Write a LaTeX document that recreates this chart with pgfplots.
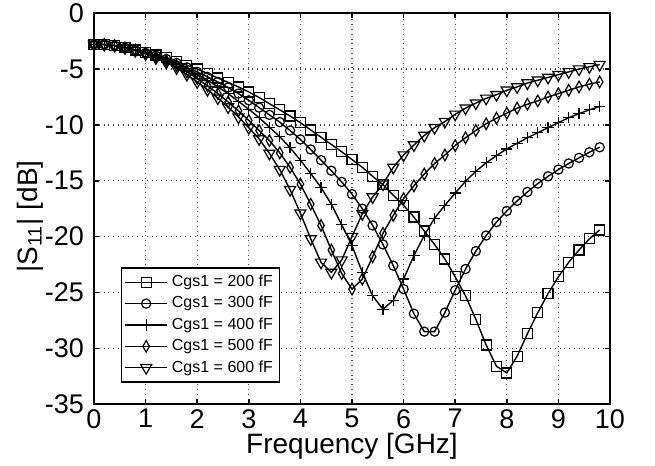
\documentclass[border=0pt]{standalone}
\usepackage{fontspec}
\setmainfont{Liberation Sans}
\usepackage{pgfplots}
\usepackage{pgfplotstable}
\pgfplotsset{compat=1.18}

\pgfplotstableread{
f    a      b      c      d      e
0.0  -2.80  -2.80  -2.80  -2.80  -2.80
0.2  -2.80  -2.80  -2.80  -2.80  -2.80
0.4  -2.90  -2.90  -2.90  -2.90  -2.90
0.6  -3.10  -3.10  -3.10  -3.10  -3.10
0.8  -3.30  -3.30  -3.30  -3.30  -3.35
1.0  -3.50  -3.55  -3.55  -3.60  -3.65
1.2  -3.75  -3.80  -3.85  -3.90  -4.00
1.4  -4.00  -4.10  -4.15  -4.25  -4.40
1.6  -4.30  -4.45  -4.50  -4.70  -4.90
1.8  -4.65  -4.85  -4.95  -5.25  -5.50
2.0  -5.00  -5.25  -5.45  -5.85  -6.15
2.2  -5.40  -5.70  -6.00  -6.50  -6.85
2.4  -5.80  -6.15  -6.60  -7.20  -7.60
2.6  -6.20  -6.65  -7.20  -7.95  -8.40
2.8  -6.60  -7.20  -7.90  -8.75  -9.30
3.0  -7.05  -7.80  -8.60  -9.60  -10.25
3.2  -7.55  -8.45  -9.35  -10.50 -11.25
3.4  -8.10  -9.10  -10.20 -11.40 -12.55
3.6  -8.65  -9.75  -11.05 -12.50 -14.00
3.8  -9.20  -10.50 -12.05 -13.80 -15.80
4.0  -9.80  -11.30 -13.15 -15.30 -17.90
4.2  -10.45 -12.20 -14.35 -17.10 -20.20
4.4  -11.10 -13.15 -15.60 -19.00 -22.30
4.6  -11.75 -14.10 -17.10 -21.20 -23.20
4.8  -12.40 -15.10 -18.95 -23.30 -22.10
5.0  -13.10 -16.20 -20.80 -24.70 -20.00
5.2  -13.80 -17.50 -23.20 -23.80 -17.95
5.4  -14.60 -19.00 -25.30 -21.80 -16.45
5.6  -15.35 -20.70 -26.50 -19.70 -15.30
5.8  -16.30 -22.60 -25.70 -18.10 -13.80
6.0  -17.20 -24.70 -23.80 -16.60 -12.70
6.2  -18.25 -26.90 -21.70 -15.45 -11.80
6.4  -19.50 -28.50 -19.90 -14.40 -10.95
6.6  -20.70 -28.50 -18.35 -13.45 -10.25
6.8  -22.00 -26.80 -17.20 -12.70 -9.70
7.0  -23.60 -24.80 -16.10 -11.85 -9.05
7.2  -25.30 -22.90 -15.05 -11.15 -8.50
7.4  -27.40 -21.30 -14.15 -10.50 -8.05
7.6  -29.70 -19.90 -13.40 -9.90  -7.62
7.8  -31.60 -18.70 -12.75 -9.40  -7.30
8.0  -32.20 -17.70 -12.15 -8.95  -6.90
8.2  -30.70 -16.80 -11.65 -8.50  -6.60
8.4  -28.70 -16.00 -11.15 -8.15  -6.25
8.6  -26.80 -15.25 -10.70 -7.85  -6.00
8.8  -25.10 -14.60 -10.25 -7.50  -5.75
9.0  -23.60 -14.00 -9.80  -7.20  -5.50
9.2  -22.30 -13.45 -9.35  -6.90  -5.25
9.4  -21.20 -12.95 -9.00  -6.60  -5.00
9.6  -20.20 -12.45 -8.65  -6.35  -4.80
9.8  -19.40 -12.00 -8.35  -6.15  -4.60
}\datatable

\begin{document}
\begin{tikzpicture}
\useasboundingbox (-47pt,-30.9pt) rectangle (280.5pt,202.1pt);
\begin{axis}[
  at={(0,0)}, anchor=south west,
  scale only axis,
  width=258pt, height=195.5pt,
  xmin=0, xmax=10, ymin=-35, ymax=0,
  xtick={0,1,...,10},
  ytick={-35,-30,...,0},
  tick align=inside,
  tick pos=both,
  major tick length=2.5pt,
  axis line style={line width=1pt},
  every tick/.style={black, line width=0.8pt},
  grid=major,
  major grid style={dotted, line width=0.6pt, black!75},
  /pgf/number format/assume math mode=true,
  ticklabel style={font=\fontsize{13.5}{15}\selectfont},
  yticklabel style={xshift=-1.5pt},
  xticklabel style={yshift=1pt},
  xlabel={Frequency [GHz]},
  ylabel={|S\textsubscript{11}| [dB]},
  label style={font=\fontsize{14}{16}\selectfont},
  xlabel style={at={(axis description cs:0.5,-0.107)}, anchor=center},
  ylabel style={at={(axis description cs:-0.124,0.48)}, anchor=center},
  legend style={at={(axis description cs:0.052,0.35)}, anchor=north west,
    font=\fontsize{8}{9.75}\selectfont, draw=black, line width=0.6pt,
    fill=white, inner sep=1.5pt, row sep=-0.6pt,
    /tikz/every even column/.append style={column sep=1pt}},
  legend cell align=left,
  legend image code/.code={%
    \draw[mark repeat=2,mark phase=2,#1] plot coordinates {(0cm,0cm) (0.37cm,0cm) (0.74cm,0cm)};},
]
\addplot[black, line width=0.7pt, mark=square, mark size=2.5pt, mark options={solid, line width=0.6pt, fill=none}] table[x=f,y=a] {\datatable};
\addlegendentry{Cgs1 = 200 fF}
\addplot[black, line width=0.7pt, mark=o, mark size=2.3pt, mark options={solid, line width=0.6pt, fill=none}] table[x=f,y=b] {\datatable};
\addlegendentry{Cgs1 = 300 fF}
\addplot[black, line width=0.7pt, mark=+, mark size=2.8pt, mark options={solid, line width=0.6pt}] table[x=f,y=c] {\datatable};
\addlegendentry{Cgs1 = 400 fF}
\addplot[black, line width=0.7pt, mark=diamond, mark size=2.9pt, mark options={solid, line width=0.6pt, fill=none, xscale=0.75}] table[x=f,y=d] {\datatable};
\addlegendentry{Cgs1 = 500 fF}
\addplot[black, line width=0.7pt, mark=triangle, mark size=3.2pt, mark options={solid, line width=0.6pt, fill=none, rotate=180}] table[x=f,y=e] {\datatable};
\addlegendentry{Cgs1 = 600 fF}
\end{axis}
\end{tikzpicture}
\end{document}
